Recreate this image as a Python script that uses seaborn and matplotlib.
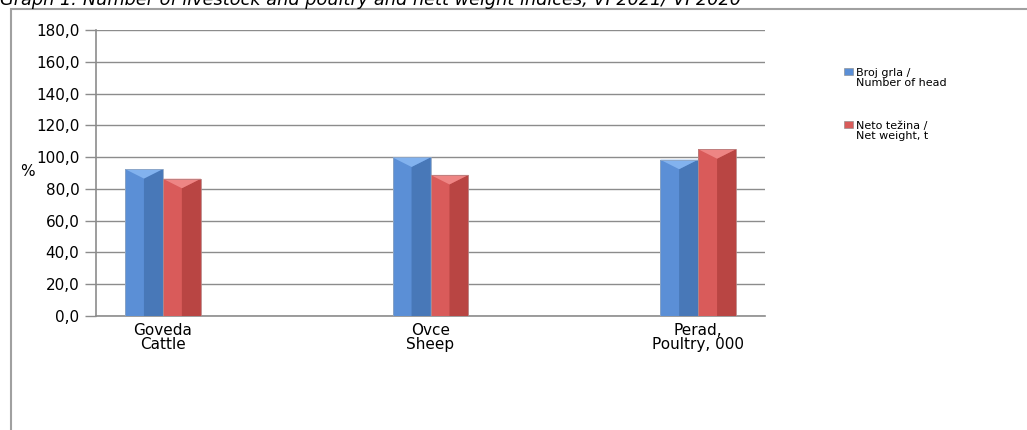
import matplotlib
matplotlib.use("Agg")
import matplotlib.pyplot as plt
from matplotlib.patches import Polygon, Rectangle, Patch
from matplotlib.legend_handler import HandlerPatch
from matplotlib.ticker import FuncFormatter, FixedLocator
import pandas as pd
import seaborn as sns

# data (indices, %)
categories = ["Goveda\nCattle", "Ovce\nSheep", "Perad,\nPoultry, 000"]
slots = ["Goveda\nCattle", " ", "Ovce\nSheep", "  ", "Perad,\nPoultry, 000"]
series = ["Broj grla /\nNumber of head", "Neto težina /\nNet weight, t"]
head_values = [92.5, 99.8, 98.4]
weight_values = [86.4, 88.8, 105.0]
y_ticks = [0, 20, 40, 60, 80, 100, 120, 140, 160, 180]

title = "Graph 1: Number of livestock and poultry and nett weight indices, VI 2021/ VI 2020"

base_colors = ["#5B8FD6", "#D95B5A"]
dark_colors = ["#4878B8", "#B94543"]
top_colors = ["#82B2EE", "#EE8584"]

df = pd.DataFrame({
    "cat": categories * 2,
    "series": [series[0]] * 3 + [series[1]] * 3,
    "value": head_values + weight_values,
})

sns.set_style("white")
plt.rcParams["font.family"] = ["DejaVu Sans"]
plt.rcParams["text.color"] = "black"

fig = plt.figure(figsize=(10.27, 4.30), dpi=100)
ax = fig.add_axes([96 / 1027, 1 - 316 / 430, (765 - 96) / 1027, (316 - 30) / 430])

sns.barplot(data=df, x="cat", y="value", hue="series", order=slots,
            hue_order=series, palette=base_colors, saturation=1, width=0.567, gap=0,
            errorbar=None, legend=False, ax=ax, edgecolor="none", zorder=3)

# bevel shading on each bar, built from the bars seaborn drew
bevel = 6.0
for i, cont in enumerate(ax.containers):
    for bar in cont:
        x0 = bar.get_x()
        w = bar.get_width()
        h = bar.get_height()
        if not h == h:
            continue
        mid = x0 + w / 2
        ax.add_patch(Polygon([(mid, 0), (x0 + w, 0), (x0 + w, h), (mid, h - bevel)],
                             closed=True, facecolor=dark_colors[i], edgecolor="none", zorder=4))
        ax.add_patch(Polygon([(x0, h), (x0 + w, h), (mid, h - bevel)],
                             closed=True, facecolor=top_colors[i], edgecolor="none", zorder=5))
        ax.add_patch(Rectangle((x0, 0), w, h, facecolor="none",
                               edgecolor="#8FA6C4" if i == 0 else "#B88080", lw=0.6, zorder=6))

ax.set_ylim(0, 180)
ax.set_xlim(-0.5, len(slots) - 0.5)
ax.set_yticks(y_ticks)
ax.yaxis.set_major_formatter(FuncFormatter(lambda v, p: f"{v:.1f}".replace(".", ",")))
ax.yaxis.grid(True, color="#8C8C8C", lw=1.0, zorder=0)
ax.set_axisbelow(True)

ax.set_xticks(range(len(slots)))
ax.set_xticklabels(slots)
ax.xaxis.set_minor_locator(FixedLocator([k - 0.5 for k in range(len(slots) + 1)]))
ax.tick_params(axis="x", which="major", length=0, pad=5, labelsize=11, labelcolor="black")
ax.tick_params(axis="x", which="minor", length=5, width=1, color="#8C8C8C", direction="out")
ax.tick_params(axis="y", length=8, width=1, color="#8C8C8C", direction="out",
               labelsize=11, labelcolor="black", pad=4, left=True)
for lbl in ax.get_xticklabels():
    lbl.set_linespacing(0.95)

ax.set_xlabel("")
ax.set_ylabel("")
for s in ["top", "right"]:
    ax.spines[s].set_visible(False)
for s in ["left", "bottom"]:
    ax.spines[s].set_color("#8C8C8C")
    ax.spines[s].set_linewidth(1.2)

fig.text(20 / 1027, 1 - 176 / 430, "%", fontsize=11, color="black")


# legend key sits next to the first line of its two-line label
def top_key(legend, orig_handle, xdescent, ydescent, width, height, fontsize):
    return Rectangle((-xdescent, -ydescent + 0.6 * fontsize), width, height)


handles = [Patch(facecolor=base_colors[i], edgecolor="#888888", lw=0.4) for i in range(2)]
leg = fig.legend(handles, series, loc="upper left", bbox_to_anchor=(840 / 1027, 1 - 64 / 430),
                 frameon=False, fontsize=8, handlelength=0.8, handleheight=0.6,
                 handletextpad=0.2, labelspacing=3.0, borderaxespad=0,
                 handler_map={Patch: HandlerPatch(patch_func=top_key)})
for t in leg.get_texts():
    t.set_linespacing(0.95)
    t.set_color("black")

# outer chart frame and the caption above it (cut by the top edge, as in the source)
fig.patches.append(Rectangle((11 / 1027, -0.1), 1.2, 1.1 - 9 / 430,
                             transform=fig.transFigure, fill=False,
                             edgecolor="#A0A0A0", lw=1.5))
fig.text(0.0, 1 - 5 / 430, title, fontsize=12.8, style="italic", va="baseline", ha="left",
         color="black")

fig.savefig("out.png", dpi=100)
